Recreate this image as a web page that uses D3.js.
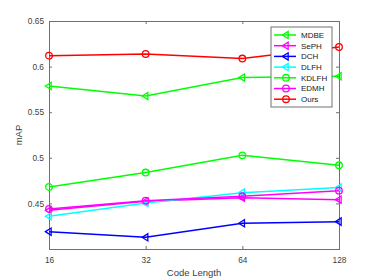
<!DOCTYPE html>
<html>
<head>
<meta charset="utf-8">
<script src="https://cdn.jsdelivr.net/npm/d3@7"></script>
<style>
  body { margin: 0; background: #fff; }
  svg { display: block; font-family: "Liberation Sans", Arial, sans-serif; }
  .axis text { fill: #404040; font-size: 8.3px; }
  .axis path, .axis line { stroke: #707070; }
</style>
</head>
<body>
<figure id="chart" style="margin:0"></figure>
<script>
const codeLengths = ['16', '32', '64', '128'];
const yTicks = [0.45, 0.5, 0.55, 0.6, 0.65];

const mdbe  = [0.5787, 0.5678, 0.5880, 0.5894];
const seph  = [0.4424, 0.4523, 0.4563, 0.4541];
const dch   = [0.4190, 0.4128, 0.4282, 0.4300];
const dlfh  = [0.4359, 0.4504, 0.4618, 0.4673];
const kdlfh = [0.4680, 0.4838, 0.5027, 0.4918];
const edmh  = [0.4439, 0.4530, 0.4578, 0.4640];
const ours  = [0.6120, 0.6138, 0.6088, 0.6215];

const series = [
  { name: 'MDBE',  values: mdbe,  color: '#00ff00', marker: 'tri' },
  { name: 'SePH',  values: seph,  color: '#ff00ff', marker: 'tri' },
  { name: 'DCH',   values: dch,   color: '#0000ff', marker: 'tri' },
  { name: 'DLFH',  values: dlfh,  color: '#00ffff', marker: 'tri' },
  { name: 'KDLFH', values: kdlfh, color: '#00ff00', marker: 'circle' },
  { name: 'EDMH',  values: edmh,  color: '#ff00ff', marker: 'circle' },
  { name: 'Ours',  values: ours,  color: '#ff0000', marker: 'circle' }
];

const width = 374, height = 280;
const margin = { top: 21, right: 35, bottom: 31, left: 49 };
const iw = width - margin.left - margin.right;
const ih = height - margin.top - margin.bottom;

const svg = d3.select('figure#chart').append('svg')
  .attr('width', width)
  .attr('height', height);

const g = svg.append('g')
  .attr('transform', 'translate(' + margin.left + ',' + margin.top + ')');

const x = d3.scalePoint().domain(codeLengths).range([0, iw]);
const y = d3.scaleLinear().domain([0.4, 0.65]).range([ih, 0]);

// box with ticks on all sides, like matlab
g.append('g').attr('class', 'axis')
  .attr('transform', 'translate(0,' + ih + ')')
  .call(d3.axisBottom(x).tickSize(-3).tickPadding(8))
  .call(s => s.selectAll('text').attr('dy', '0.71em'));
g.append('g').attr('class', 'axis')
  .call(d3.axisTop(x).tickSize(-3).tickFormat(''));
g.append('g').attr('class', 'axis')
  .call(d3.axisLeft(y).tickValues(yTicks).tickSize(-3).tickPadding(5).tickFormat(d3.format('')));
g.append('g').attr('class', 'axis')
  .attr('transform', 'translate(' + iw + ',0)')
  .call(d3.axisRight(y).tickValues(yTicks).tickSize(-3).tickFormat(''));
g.selectAll('.axis path').attr('stroke-width', 1);

const triPath = function (cx, cy, s) {
  return 'M' + (cx - s) + ',' + cy + 'L' + (cx + s * 0.6) + ',' + (cy - s) +
    'L' + (cx + s * 0.6) + ',' + (cy + s) + 'Z';
};

function drawMarker(sel, cx, cy, d) {
  if (d.marker === 'tri') {
    sel.append('path').attr('d', triPath(cx, cy, 3.6))
      .attr('fill', 'none').attr('stroke', d.color).attr('stroke-width', 1.3);
  } else {
    sel.append('circle').attr('cx', cx).attr('cy', cy).attr('r', 3.3)
      .attr('fill', 'none').attr('stroke', d.color).attr('stroke-width', 1.3);
  }
}

const line = d3.line()
  .x((v, i) => x(codeLengths[i]))
  .y(v => y(v));

series.forEach(function (d) {
  const sg = g.append('g');
  sg.append('path')
    .attr('d', line(d.values))
    .attr('fill', 'none')
    .attr('stroke', d.color)
    .attr('stroke-width', 1.5);
  d.values.forEach(function (v, i) {
    drawMarker(sg, x(codeLengths[i]), y(v), d);
  });
});

// legend
const lg = svg.append('g').attr('transform', 'translate(271,27)');
lg.append('rect')
  .attr('width', 61).attr('height', 80)
  .attr('fill', '#fff').attr('stroke', '#707070').attr('stroke-width', 1);
series.forEach(function (d, i) {
  const ly = 8 + i * 10.7;
  const row = lg.append('g');
  row.append('line')
    .attr('x1', 3).attr('x2', 25).attr('y1', ly).attr('y2', ly)
    .attr('stroke', d.color).attr('stroke-width', 1.5);
  drawMarker(row, 15, ly, d);
  row.append('text')
    .attr('x', 30).attr('y', ly).attr('dy', '0.35em')
    .attr('font-size', 8).attr('fill', '#202020')
    .text(d.name);
});

// axis labels
svg.append('text')
  .attr('x', margin.left + iw / 2).attr('y', 276)
  .attr('text-anchor', 'middle')
  .attr('font-size', 9.5).attr('fill', '#404040')
  .text('Code Length');
svg.append('text')
  .attr('transform', 'translate(22,' + (margin.top + ih / 2) + ') rotate(-90)')
  .attr('text-anchor', 'middle')
  .attr('font-size', 9.5).attr('fill', '#404040')
  .text('mAP');
</script>
</body>
</html>
